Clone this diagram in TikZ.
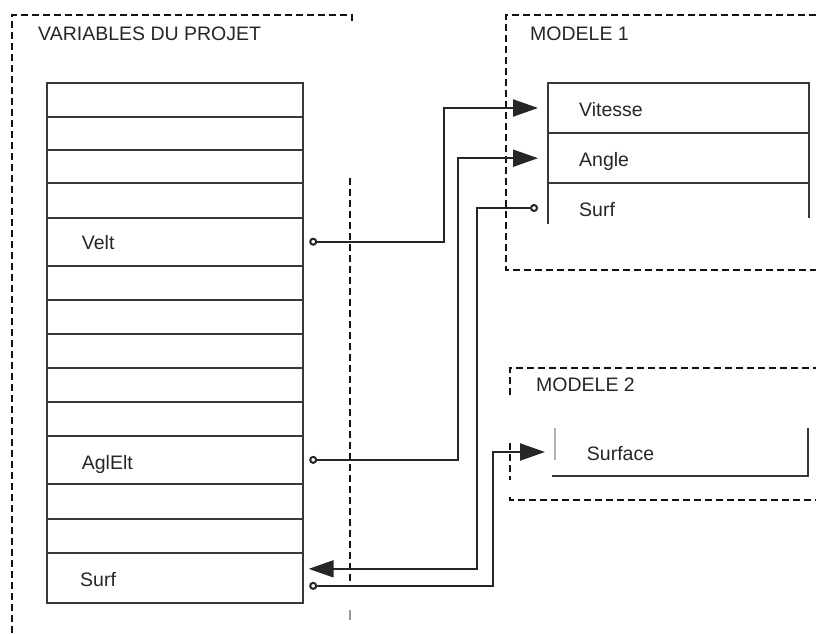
\documentclass[tikz,border=0pt]{standalone}
\usepackage{fontspec}
\setmainfont{Liberation Sans}
\usetikzlibrary{arrows.meta}
\definecolor{tabline}{HTML}{383838}
\definecolor{connline}{HTML}{262626}
\definecolor{dashline}{HTML}{141414}
\definecolor{txt}{HTML}{262626}
\begin{document}
\begin{tikzpicture}[x=1pt,y=-1pt,
  every node/.style={font=\fontsize{19.5}{22}\selectfont, text=txt},
  rowbox/.style={draw=tabline, line width=2.2pt, minimum width=256pt, inner sep=0pt, outer sep=0pt},
  mrow/.style={draw=tabline, line width=2.2pt, minimum width=261pt, inner sep=0pt, outer sep=0pt},
  tab/.style={draw=tabline, line width=2.2pt},
  lbl/.style={anchor=base west, inner sep=0pt},
  dbox/.style={draw=dashline, line width=2.2pt, dash pattern=on 7pt off 4pt},
  conn/.style={draw=connline, line width=2pt},
  startc/.style={{Circle[open,length=8pt,fill=white]}-{Triangle[length=25pt,width=17pt]}},
]
\useasboundingbox (0,0) rectangle (816,633);
\fill[white] (0,0) rectangle (816,633);

% ---- dashed frames ----
\draw[dbox] (12,633) -- (12,15) -- (352,15) -- (352,22);
\draw[dbox] (816,15) -- (506,15) -- (506,270) -- (816,270);
\draw[dbox] (510,395) -- (510,368) -- (816,368);
\draw[dbox] (510,443) -- (510,480);
\draw[dbox] (510,497) -- (510,500) -- (816,500);

% ---- titles ----
\node[lbl] (tvar) at (38,40.7) {VARIABLES DU PROJET};
\node[lbl] (tm1) at (530,40) {MODELE 1};
\node[lbl] (tm2) at (536,391.7) {MODELE 2};

% ---- project variables table ----
\node[rowbox, minimum height=34pt]   (r1)  at (174.7,99.7)   {};
\node[rowbox, minimum height=33.3pt] (r2)  at (174.7,133.35) {};
\node[rowbox, minimum height=33.3pt] (r3)  at (174.7,166.65) {};
\node[rowbox, minimum height=34.4pt] (r4)  at (174.7,200.5)  {};
\node[rowbox, minimum height=48pt]   (r5)  at (174.7,241.7)  {};
\node[rowbox, minimum height=34.3pt] (r6)  at (174.7,282.85) {};
\node[rowbox, minimum height=33.7pt] (r7)  at (174.7,316.85) {};
\node[rowbox, minimum height=34pt]   (r8)  at (174.7,350.7)  {};
\node[rowbox, minimum height=34pt]   (r9)  at (174.7,384.7)  {};
\node[rowbox, minimum height=34pt]   (r10) at (174.7,418.7)  {};
\node[rowbox, minimum height=48.3pt] (r11) at (174.7,459.85) {};
\node[rowbox, minimum height=34.7pt] (r12) at (174.7,501.35) {};
\node[rowbox, minimum height=34pt]   (r13) at (174.7,535.7)  {};
\node[rowbox, minimum height=50.3pt] (r14) at (174.7,577.85) {};

\node[lbl] (lvelt) at (81.7,249.3) {Velt};
\node[lbl] (lagl)  at (81.7,469.3) {AglElt};
\node[lbl] (lsurf) at (80,586.7)   {Surf};

% ---- modele 1 table ----
\node[mrow, minimum height=50.6pt] (m1) at (678.5,108)   {};
\node[mrow, minimum height=49.7pt] (m2) at (678.5,158.2) {};
\node[inner sep=0pt, outer sep=0pt, minimum width=261pt, minimum height=50pt] (m3) at (678.5,208) {};
\draw[tab] (m3.north west) -- ++(0,41);
\draw[tab] (m3.north east) -- ++(0,35);

\node[lbl] (lvit)  at (579,116.7) {Vitesse};
\node[lbl] (lang)  at (579,166.7) {Angle};
\node[lbl] (lsurf1) at (579,216.7) {Surf};

% ---- modele 2 table ----
\node[inner sep=0pt, outer sep=0pt, minimum width=253pt, minimum height=48pt] (s1) at (681.5,452) {};
\draw[draw=black!30, line width=1.4pt] (s1.north west) -- ++(0,32);
\draw[tab] ([xshift=-3pt]s1.south west) -- (s1.south east) -- (s1.north east);
\node[lbl] (lsurface) at (586.7,460) {Surface};

% ---- separator ----
\coordinate (sepA) at (350,178);
\coordinate (sepB) at (350,585);
\coordinate (sepC) at (350,610);
\coordinate (sepD) at (350,620);
\draw[dbox] (sepA) -- (sepB);
\draw[draw=black!40, line width=1.6pt] (sepC) -- (sepD);

% ---- connectors ----
\draw[conn, startc] ([xshift=6.5pt]r5.east) -- ++(134.5,0) |- ([xshift=-10pt]m1.west);
\draw[conn, startc] ([xshift=6.5pt]r11.east) -- ++(148.5,0) |- ([xshift=-10pt]m2.west);
\draw[conn, startc] ([xshift=-10pt]m3.west) -- ++(-61.5,0) |- ([xshift=6pt,yshift=9pt]r14.east);
\draw[conn, startc] ([xshift=6.5pt,yshift=-8pt]r14.east) -- ++(184,0) |- ([xshift=-10pt]s1.west);
\end{tikzpicture}
\end{document}
